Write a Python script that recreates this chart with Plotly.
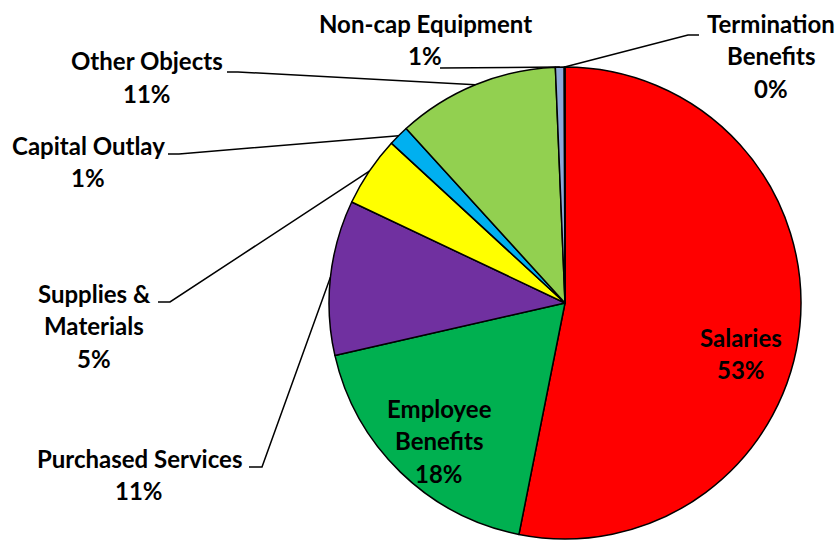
import math
import plotly.graph_objects as go

# Spending by object (share of total, %)
categories = [
    "Salaries", "Employee Benefits", "Purchased Services", "Supplies & Materials",
    "Capital Outlay", "Other Objects", "Non-cap Equipment", "Termination Benefits",
]
shares = [53.1, 18.3, 10.6, 4.8, 1.4, 11.1, 0.6, 0.05]
colors = ["#FF0000", "#00B050", "#7030A0", "#FFFF00",
          "#00B0F0", "#92D050", "#8EA9DB", "#A5A5A5"]

# Label text broken into lines
label_lines = [
    ["Salaries"],
    ["Employee", "Benefits"],
    ["Purchased Services"],
    ["Supplies &", "Materials"],
    ["Capital Outlay"],
    ["Other Objects"],
    ["Non-cap Equipment"],
    ["Termination", "Benefits"],
]

W, H = 840, 540
CX, CY, R = 565, 303, 236          # pie centre / radius in pixels
LINE_GAP = 32.5                     # spacing between label lines

# label placement: centre x, first-line centre y (pixels)
label_pos = [
    (741, 337), (439, 408), (139, 458), (94, 293),
    (88, 145), (147, 61), (425, 23), (771, 23),
]
# leader lines: label-side start and elbow (None = no leader)
leaders = [
    None, None,
    ((249, 467), (262, 467)),
    ((158, 302), (170, 302)),
    ((168, 154), (179, 154)),
    ((227, 72), (238, 72)),
    ((440, 68), None),
    ((699, 35), (688, 35)),
]


def px(x):
    return x / W


def py(y):
    return 1 - y / H


total = sum(shares)
pcts = [int(v / total * 100 + 0.5) for v in shares]

fig = go.Figure(go.Pie(
    labels=categories,
    values=shares,
    sort=False,
    direction="clockwise",
    rotation=0,
    marker=dict(colors=colors, line=dict(color="black", width=1.5)),
    textinfo="none",
    hoverinfo="label+percent",
    domain=dict(x=[px(CX - R), px(CX + R)], y=[py(CY + R), py(CY - R)]),
))

font = dict(family="Lato", size=24, color="black", weight="bold")
annotations = []
shapes = []
cum = 0.0
for i, v in enumerate(shares):
    mid = (cum + v / 2) / total * 2 * math.pi
    cum += v
    lines = label_lines[i] + [f"{pcts[i]}%"]
    lx, ly = label_pos[i]
    for k, t in enumerate(lines):
        annotations.append(dict(
            x=px(lx), y=py(ly + k * LINE_GAP), xref="paper", yref="paper",
            text=t, showarrow=False, xanchor="center", yanchor="middle", font=font,
        ))
    if leaders[i] is not None:
        start, elbow = leaders[i]
        ex = CX + R * math.sin(mid)
        ey = CY - R * math.cos(mid)
        pts = [start] + ([elbow] if elbow else []) + [(ex, ey)]
        path = "M " + " L ".join(f"{px(a):.5f},{py(b):.5f}" for a, b in pts)
        shapes.append(dict(type="path", path=path, xref="paper", yref="paper",
                           line=dict(color="black", width=1.5)))

fig.update_layout(
    width=W, height=H,
    margin=dict(l=0, r=0, t=0, b=0),
    showlegend=False,
    paper_bgcolor="white",
    plot_bgcolor="white",
    annotations=annotations,
    shapes=shapes,
)

fig.write_html("out.html")
